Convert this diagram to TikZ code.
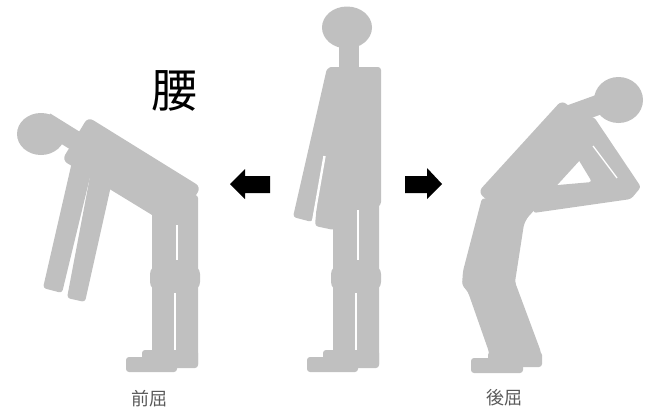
\documentclass[tikz,border=0pt]{standalone}
\usepackage{fontspec}
\usepackage{tikz}
\newfontfamily\jpfont{Noto Sans CJK JP}
\definecolor{figgray}{RGB}{192,192,192}
\definecolor{capgray}{RGB}{89,89,89}

\begin{document}
\begin{tikzpicture}[x=1pt,y=-1pt]
	\tikzstyle{body}=[fill=figgray,rounded corners=3pt]
	\tikzstyle{neck}=[draw=figgray,line width=20pt]
	\tikzstyle{seam}=[draw=white,line width=1.3pt]
	\tikzstyle{gap}=[draw=white,line width=2.4pt]
	\tikzstyle{caption}=[text=capgray,font=\jpfont\fontsize{18}{18}\selectfont]

	\useasboundingbox (0,0) rectangle (652,410);

	% standing
	\fill[body] (347,27.5) ellipse [x radius=25pt, y radius=21pt];
	\fill[figgray] (339,40) rectangle (359,72);
	\fill[body] (328,67) -- (381,67) -- (381,205) -- (334,230) -- (315,226) -- cycle;
	\fill[body] (327,68) -- (341,68) -- (312,222) -- (293,217) -- cycle;
	\draw[gap] (324.5,156) -- (312.6,224);
	\fill[body] (333,195) rectangle (379,368);
	\fill[body,rounded corners=9pt] (331,265) rectangle (381,291);
	\fill[body] (307,357) rectangle (358,372);
	\fill[body] (323,350) rectangle (379,367);
	\draw[seam] (358,210) -- (358,260);
	\draw[seam] (356,293) -- (356,350);

	% bending forward
	\fill[body] (41,134) ellipse [x radius=24pt, y radius=21pt];
	\draw[neck] (45,122) -- (95,153);
	\fill[body,rounded corners=6pt] (88,117) -- (201,187) -- (175,229) -- (62,160) -- cycle;
	\fill[body] (77,140) -- (99,140) -- (62,293) -- (43,288) -- cycle;
	\fill[body] (95,150) -- (119,150) -- (85,302) -- (67,298) -- cycle;
	\fill[body] (152,195) rectangle (198,368);
	\fill[body,rounded corners=9pt] (150,265) rectangle (200,291);
	\fill[body] (126,357) rectangle (177,372);
	\fill[body] (142,350) rectangle (198,367);
	\draw[seam] (177,225) -- (177,260);
	\draw[seam] (175,293) -- (175,350);

	% bending backward
	\fill[body] (618.5,100) ellipse [x radius=24.5pt, y radius=23pt];
	\draw[neck] (570,115) -- (606,102);
	\fill[body,rounded corners=6pt] (562,100) -- (602,136) -- (518,228) -- (478,192) -- cycle;
	\fill[body] (552,116) -- (594,117) -- (641,187) -- (631,199) -- (533,213) -- (540,188) -- (558,185) -- (592,182) -- cycle;
	\draw[seam] (593,146) -- (617,178);
	\fill[body] (482,198) -- (534,206) -- (524,224) -- (515,282) -- (541,352) -- (541,366) -- (489,366) -- (489,352) -- (468,292) -- (462,285) -- (463,271) -- cycle;
	\fill[body] (471,358) rectangle (523,373);
	\fill[body] (488,352) rectangle (542,367);

	% arrows
	\fill (230,184) -- (245,169) -- (245,176) -- (270,176) -- (270,193) -- (245,193) -- (245,199) -- cycle;
	\fill (442,184) -- (427,168) -- (427,176) -- (405,176) -- (405,193) -- (427,193) -- (427,199) -- cycle;

	\node[font=\jpfont\fontsize{46}{46}\selectfont] (waist) at (174.5,90.5) {腰};
	\node[caption] (forward) at (149.5,398.5) {前屈};
	\node[caption] (backward) at (504,397.5) {後屈};
\end{tikzpicture}
\end{document}
